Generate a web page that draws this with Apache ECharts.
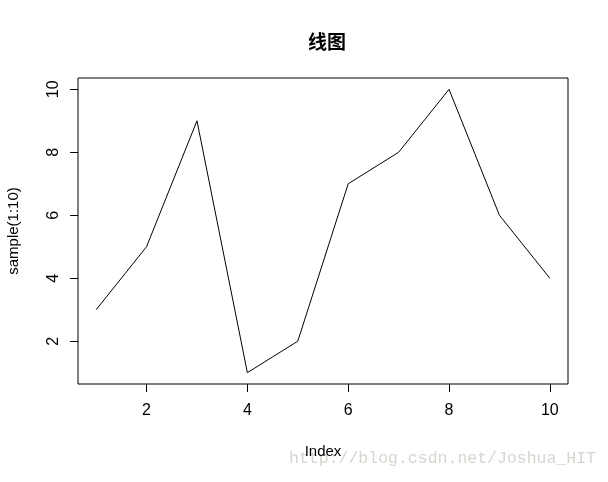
<!DOCTYPE html>
<html>
<head>
<meta charset="utf-8">
<script src="https://cdn.jsdelivr.net/npm/echarts@6/dist/echarts.min.js"></script>
<style>
  html, body { margin: 0; padding: 0; background: #fff; }
  #chart { width: 608px; height: 482px; }
</style>
</head>
<body>
<div id="chart"></div>
<script>
// index and sample(1:10) values
var xValues = [1, 2, 3, 4, 5, 6, 7, 8, 9, 10];
var yValues = [3, 5, 9, 1, 2, 7, 8, 10, 6, 4];
var xTicks = [2, 4, 6, 8, 10];
var yTicks = [2, 4, 6, 8, 10];

var chart = echarts.init(document.getElementById('chart'));

var points = xValues.map(function (x, i) {
    return [x, yValues[i]];
});

var labelFont = 'Liberation Sans, Arial, sans-serif';

var option = {
    backgroundColor: '#fff',
    animation: false,
    title: {
        text: '线图',
        left: 322,
        top: 27,
        textAlign: 'center',
        textStyle: {
            fontFamily: 'Noto Sans CJK SC',
            fontSize: 19,
            fontWeight: 'bold',
            color: '#000'
        }
    },
    grid: {
        left: 78,
        right: 40,
        top: 78,
        bottom: 98,
        outerBoundsMode: 'none',
        containLabel: false,
        show: true,
        borderColor: '#000',
        borderWidth: 1,
        backgroundColor: 'transparent'
    },
    xAxis: {
        type: 'value',
        min: 0.64,
        max: 10.36,
        name: 'Index',
        nameLocation: 'middle',
        nameGap: 60,
        nameTextStyle: { fontFamily: labelFont, fontSize: 15, color: '#000' },
        splitLine: { show: false },
        axisLine: { show: false },
        axisTick: {
            show: true,
            inside: false,
            length: 8,
            customValues: xTicks,
            lineStyle: { color: '#000', width: 1 }
        },
        axisLabel: {
            customValues: xTicks,
            margin: 19,
            fontFamily: labelFont,
            fontSize: 16,
            color: '#000'
        }
    },
    yAxis: {
        type: 'value',
        min: 0.64,
        max: 10.36,
        name: 'sample(1:10)',
        nameLocation: 'middle',
        nameGap: 57,
        nameRotate: 90,
        nameTextStyle: { fontFamily: labelFont, fontSize: 15, color: '#000' },
        splitLine: { show: false },
        axisLine: { show: false },
        axisTick: {
            show: true,
            inside: false,
            length: 8,
            customValues: yTicks,
            lineStyle: { color: '#000', width: 1 }
        },
        axisLabel: {
            customValues: yTicks,
            rotate: 90,
            margin: 16,
            fontFamily: labelFont,
            fontSize: 16,
            color: '#000'
        }
    },
    series: [{
        type: 'line',
        data: points,
        showSymbol: false,
        symbol: 'none',
        lineStyle: { color: '#000', width: 1 }
    }],
    graphic: [{
        type: 'text',
        right: 12,
        top: 450,
        style: {
            text: 'http://blog.csdn.net/Joshua_HIT',
            font: '16.5px "Liberation Mono", monospace',
            fill: '#d6d6d0'
        }
    }]
};

chart.setOption(option);
</script>
</body>
</html>
